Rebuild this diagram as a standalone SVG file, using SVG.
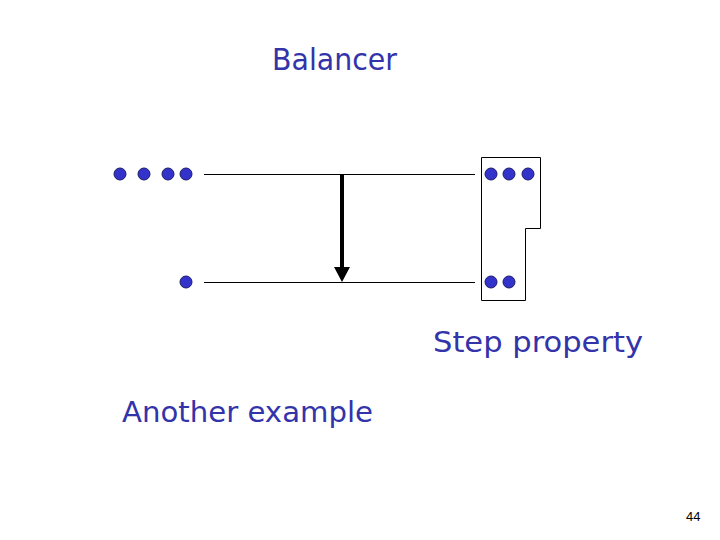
<svg xmlns="http://www.w3.org/2000/svg" width="720" height="540" viewBox="0 0 720 540">
<style>
.t{font-family:"DejaVu Sans","Liberation Sans",sans-serif;fill:#3333aa}
.dot{fill:#3333cc;stroke:#1a1a66;stroke-width:1}
.wire{stroke:#000;stroke-width:1;fill:none}
</style>
<rect width="720" height="540" fill="#fff"/>
<text class="t" x="272" y="70" font-size="31" textLength="125" lengthAdjust="spacingAndGlyphs">Balancer</text>
<g id="connectors">
<line class="wire" x1="204" y1="174.5" x2="475" y2="174.5"/>
<line class="wire" x1="204" y1="282.5" x2="475" y2="282.5"/>
<line x1="342" y1="174" x2="342" y2="268" stroke="#000" stroke-width="4"/>
<path d="M334,267 L350,267 L342,282 Z" fill="#000"/>
</g>
<g id="input-tokens">
<circle class="dot" cx="120" cy="174" r="6"/>
<circle class="dot" cx="144" cy="174" r="6"/>
<circle class="dot" cx="168" cy="174" r="6"/>
<circle class="dot" cx="186" cy="174" r="6"/>
<circle class="dot" cx="186" cy="282" r="6"/>
</g>
<g id="output-box">
<path d="M481.5,157.5 L540.5,157.5 L540.5,228.5 L525.5,228.5 L525.5,300.5 L481.5,300.5 Z" fill="#fff" stroke="#000" stroke-width="1"/>
<circle class="dot" cx="491" cy="174" r="6"/>
<circle class="dot" cx="509" cy="174" r="6"/>
<circle class="dot" cx="528" cy="174" r="6"/>
<circle class="dot" cx="491" cy="282" r="6"/>
<circle class="dot" cx="509" cy="282" r="6"/>
</g>
<text class="t" x="433" y="352" font-size="28" textLength="210" lengthAdjust="spacingAndGlyphs">Step property</text>
<text class="t" x="122" y="422" font-size="28" textLength="251" lengthAdjust="spacingAndGlyphs">Another example</text>
<text x="686" y="521" font-family="Liberation Sans, sans-serif" font-size="13" fill="#000">44</text>
</svg>
